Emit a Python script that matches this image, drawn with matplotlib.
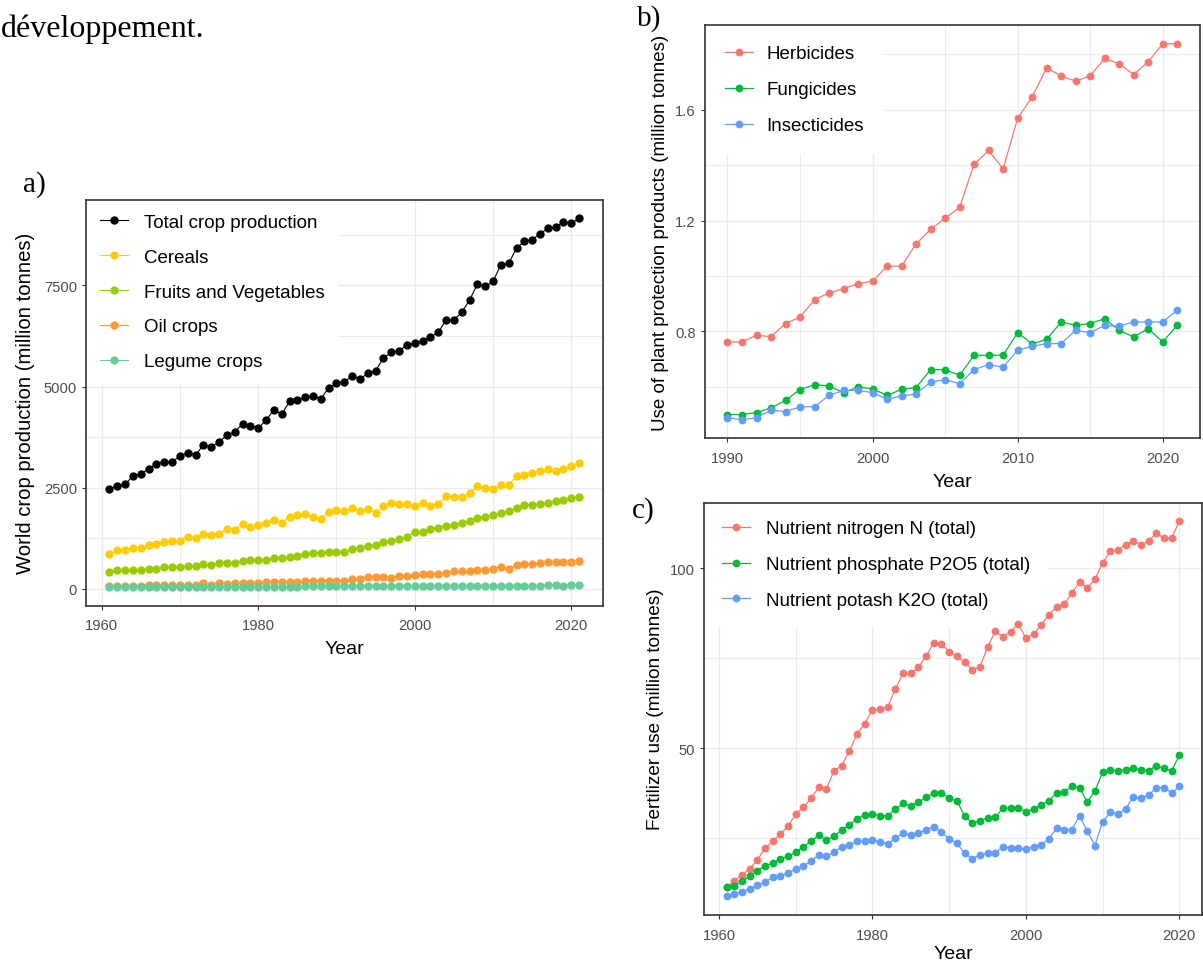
import matplotlib
matplotlib.use("Agg")
import matplotlib.pyplot as plt

FIG_W, FIG_H = 1203, 962
SANS = "Liberation Sans"
SERIF = "Liberation Serif"
GRID = "#EBEBEB"
FRAME = "#333333"
TICK_TEXT = "#4D4D4D"

# a) world crop production, million tonnes
years_a = list(range(1961, 2022))
total_crop = [
    2475, 2540, 2582, 2787, 2829, 2970, 3077, 3143, 3134, 3282,
    3349, 3307, 3554, 3505, 3629, 3795, 3876, 4074, 4034, 3968,
    4166, 4421, 4314, 4629, 4668, 4728, 4768, 4686, 4975, 5082,
    5114, 5262, 5181, 5329, 5386, 5708, 5842, 5881, 6030, 6064,
    6129, 6228, 6337, 6649, 6649, 6832, 7136, 7532, 7475, 7599,
    8010, 8044, 8423, 8589, 8629, 8777, 8911, 8951, 9059, 9042, 9158,
]
cereals = [
    866, 948, 948, 1015, 1015, 1079, 1114, 1153, 1188, 1178,
    1287, 1252, 1361, 1319, 1351, 1468, 1460, 1609, 1525, 1567,
    1634, 1698, 1634, 1772, 1814, 1847, 1772, 1733, 1896, 1946,
    1913, 1988, 1913, 1980, 1881, 2045, 2111, 2087, 2087, 2045,
    2119, 2045, 2087, 2292, 2260, 2260, 2367, 2532, 2500, 2458,
    2574, 2574, 2780, 2804, 2854, 2921, 2953, 2921, 2953, 3027, 3101,
]
fruits_veg = [
    411, 453, 453, 453, 453, 495, 495, 535, 535, 535,
    569, 561, 601, 594, 634, 634, 644, 676, 708, 708,
    708, 750, 767, 782, 807, 849, 874, 874, 906, 916,
    905, 973, 1015, 1054, 1089, 1153, 1178, 1220, 1287, 1401,
    1401, 1468, 1510, 1549, 1574, 1634, 1683, 1740, 1782, 1814,
    1881, 1913, 1988, 2062, 2079, 2087, 2119, 2168, 2193, 2235, 2260,
]
oil_crops = [
    64, 64, 64, 64, 64, 99, 99, 99, 99, 99,
    99, 99, 131, 99, 131, 115, 131, 148, 148, 131,
    163, 163, 163, 163, 163, 188, 188, 188, 188, 188,
    198, 248, 248, 280, 280, 280, 272, 312, 312, 329,
    361, 361, 361, 396, 428, 428, 428, 460, 460, 495,
    545, 495, 577, 601, 601, 634, 668, 668, 668, 668, 693,
]
legume_crops = [
    38, 38, 38, 38, 38, 38, 38, 38, 38, 38,
    38, 38, 38, 38, 38, 38, 38, 46, 46, 46,
    46, 46, 46, 46, 46, 56, 56, 60, 60, 64,
    64, 64, 64, 64, 64, 64, 64, 64, 64, 64,
    64, 64, 64, 64, 64, 64, 64, 64, 64, 64,
    64, 64, 64, 64, 64, 70, 100, 92, 72, 95, 100,
]
labels_a = ["Total crop production", "Cereals", "Fruits and Vegetables",
            "Oil crops", "Legume crops"]
colors_a = ["black", "#FFCC00", "#99CC00", "#FF9933", "#66CC99"]

# b) plant protection products, million tonnes
years_b = list(range(1990, 2022))
herbicides = [
    0.762, 0.762, 0.786, 0.781, 0.828, 0.852, 0.914, 0.939, 0.954, 0.972,
    0.981, 1.035, 1.035, 1.116, 1.168, 1.208, 1.248, 1.403, 1.453, 1.386,
    1.569, 1.646, 1.751, 1.722, 1.703, 1.722, 1.785, 1.766, 1.727, 1.773,
    1.838, 1.838,
]
fungicides = [
    0.500, 0.500, 0.507, 0.524, 0.551, 0.590, 0.608, 0.603, 0.579, 0.599,
    0.593, 0.569, 0.591, 0.597, 0.662, 0.662, 0.641, 0.714, 0.714, 0.714,
    0.795, 0.755, 0.771, 0.834, 0.822, 0.828, 0.846, 0.804, 0.780, 0.810,
    0.762, 0.822,
]
insecticides = [
    0.488, 0.482, 0.488, 0.516, 0.510, 0.528, 0.528, 0.569, 0.587, 0.587,
    0.579, 0.555, 0.567, 0.574, 0.617, 0.626, 0.611, 0.662, 0.680, 0.671,
    0.732, 0.746, 0.756, 0.756, 0.804, 0.795, 0.822, 0.819, 0.834, 0.834,
    0.834, 0.876,
]
labels_b = ["Herbicides", "Fungicides", "Insecticides"]

# c) fertilizer use, million tonnes
years_c = list(range(1961, 2021))
nitrogen = [
    11.6, 13.2, 14.9, 16.5, 19.0, 22.2, 24.2, 26.2, 28.3, 31.8,
    33.6, 36.1, 39.2, 38.7, 43.8, 45.2, 49.3, 54.0, 56.9, 60.6,
    60.9, 61.6, 66.5, 70.8, 70.8, 72.5, 75.6, 79.4, 78.9, 76.9,
    75.6, 73.9, 71.9, 72.5, 78.1, 82.5, 81.0, 82.4, 84.6, 80.6,
    81.7, 84.3, 87.1, 89.4, 90.1, 93.1, 96.3, 94.5, 97.0, 101.5,
    104.8, 105.1, 106.6, 107.6, 106.6, 107.6, 109.8, 108.4, 108.4, 113.1,
]
phosphate = [
    11.4, 11.7, 13.1, 14.4, 16.0, 17.4, 18.1, 19.3, 20.0, 21.1,
    22.7, 24.2, 25.9, 24.5, 25.6, 27.3, 28.8, 30.4, 31.5, 31.8,
    31.3, 31.3, 33.1, 34.7, 34.0, 35.0, 36.4, 37.6, 37.6, 36.1,
    35.4, 31.3, 29.2, 29.9, 30.6, 30.8, 33.4, 33.4, 33.4, 32.4,
    33.1, 34.3, 35.4, 37.6, 38.0, 39.4, 39.1, 35.0, 38.2, 43.3,
    44.1, 43.8, 44.1, 44.4, 44.1, 43.8, 45.2, 44.4, 43.8, 48.1,
]
potash = [
    8.9, 9.5, 10.2, 10.9, 12.0, 12.8, 14.2, 14.6, 15.3, 16.5,
    17.4, 18.6, 20.4, 20.0, 21.1, 22.7, 23.2, 24.2, 24.2, 24.5,
    24.1, 23.4, 25.1, 26.4, 25.9, 26.4, 27.4, 28.2, 26.7, 24.8,
    23.7, 20.8, 19.3, 20.4, 20.8, 20.8, 22.7, 22.3, 22.3, 21.9,
    22.7, 23.2, 24.8, 27.8, 27.4, 27.4, 31.3, 27.0, 23.0, 29.6,
    32.2, 31.8, 33.1, 36.6, 36.1, 37.0, 39.1, 39.1, 37.6, 39.4,
]
labels_c = ["Nutrient nitrogen N (total)", "Nutrient phosphate P2O5 (total)",
            "Nutrient potash K2O (total)"]

hue3 = ["#F8766D", "#00BA38", "#619CFF"]


def add_panel(fig, left, top, right, bottom):
    """Axes placed by pixel edges of the figure."""
    return fig.add_axes([left / FIG_W, 1 - bottom / FIG_H,
                         (right - left) / FIG_W, (bottom - top) / FIG_H])


def expand(lo, hi, frac=0.05):
    pad = (hi - lo) * frac
    return lo - pad, hi + pad


def style(ax, xmajor, xminor, ymajor, yminor, ylabel, ysize, ylabelpad,
          xlabelpad=5.5):
    for spine in ax.spines.values():
        spine.set_color(FRAME)
        spine.set_linewidth(1.2)
    ax.set_xticks(xmajor)
    ax.set_xticks(xminor, minor=True)
    ax.set_yticks(ymajor)
    ax.set_yticks(yminor, minor=True)
    ax.grid(which="major", color=GRID, lw=1.0)
    ax.grid(which="minor", color=GRID, lw=0.7)
    ax.set_axisbelow(True)
    ax.tick_params(which="major", direction="out", length=3, width=0.8,
                   color=FRAME, labelcolor=TICK_TEXT, labelsize=10.6, pad=3.5)
    ax.tick_params(axis="x", which="major", pad=6.3)
    ax.tick_params(which="minor", length=0)
    for lab in ax.get_xticklabels() + ax.get_yticklabels():
        lab.set_fontfamily(SANS)
    ax.set_xlabel("Year", fontsize=14, family=SANS, labelpad=xlabelpad)
    ax.set_ylabel(ylabel, fontsize=ysize, family=SANS, labelpad=ylabelpad)


def add_legend(ax, dx, pad, textpad, spacing):
    bbox = ax.get_window_extent()
    leg = ax.legend(loc="upper left", bbox_to_anchor=(dx / bbox.width, 1),
                    borderaxespad=0, borderpad=pad, frameon=True, fancybox=False,
                    facecolor="white", edgecolor="none", framealpha=1,
                    prop={"family": SANS, "size": 13.5}, handlelength=1.5,
                    handletextpad=textpad, labelspacing=spacing, numpoints=1)
    # hide the grid behind the keys but keep the data on top
    leg.set_zorder(1.5)


fig = plt.figure(figsize=(FIG_W / 100, FIG_H / 100), dpi=100)

# panel a
ax_a = add_panel(fig, 86, 201, 602.6, 606.5)
series_a = [total_crop, cereals, fruits_veg, oil_crops, legume_crops]
for values, label, color in zip(series_a, labels_a, colors_a):
    ax_a.plot(years_a, values, color=color, lw=0.8, marker="o",
              markersize=5, label=label)
ax_a.set_xlim(*expand(min(years_a), max(years_a)))
ax_a.set_ylim(*expand(min(min(s) for s in series_a), max(max(s) for s in series_a)))
style(ax_a, [1960, 1980, 2000, 2020], [1970, 1990, 2010],
      [0, 2500, 5000, 7500], [1250, 3750, 6250, 8750],
      "World crop production (million tonnes)", 14.6, 6.5)
add_legend(ax_a, 0.0, 0.72, 0.85, 0.95)

# panel b
ax_b = add_panel(fig, 705, 26, 1199.7, 439.3)
series_b = [herbicides, fungicides, insecticides]
for values, label, color in zip(series_b, labels_b, hue3):
    ax_b.plot(years_b, values, color=color, lw=0.9, marker="o",
              markersize=4.6, label=label)
ax_b.set_xlim(*expand(min(years_b), max(years_b)))
ax_b.set_ylim(*expand(min(min(s) for s in series_b), max(max(s) for s in series_b)))
style(ax_b, [1990, 2000, 2010, 2020], [1995, 2005, 2015],
      [0.8, 1.2, 1.6], [0.6, 1.0, 1.4, 1.8],
      "Use of plant protection products (million tonnes)", 13.5, 4.5)
add_legend(ax_b, 0.0, 1.08, 0.7, 1.0)

# panel c
ax_c = add_panel(fig, 704, 503.5, 1202, 916)
series_c = [nitrogen, phosphate, potash]
for values, label, color in zip(series_c, labels_c, hue3):
    ax_c.plot(years_c, values, color=color, lw=0.9, marker="o",
              markersize=4.6, label=label)
ax_c.set_xlim(*expand(min(years_c), max(years_c)))
ax_c.set_ylim(*expand(min(min(s) for s in series_c), max(max(s) for s in series_c)))
style(ax_c, [1960, 1980, 2000, 2020], [1970, 1990, 2010],
      [50, 100], [25, 75],
      "Fertilizer use (million tonnes)", 13.7, 4, xlabelpad=2.5)
add_legend(ax_c, 0.0, 0.94, 0.85, 1.0)

# surrounding document text and panel letters
fig.text(0.001, 1 - 37 / FIG_H, "développement.", family=SERIF, fontsize=23,
         va="baseline", ha="left")
for letter, x, y in [("a)", 34, 185), ("b)", 649, 19), ("c)", 643, 511)]:
    fig.text(x / FIG_W, 1 - y / FIG_H, letter, family=SERIF, fontsize=21,
             va="center", ha="center")

fig.savefig("out.png", dpi=100, facecolor="white")
